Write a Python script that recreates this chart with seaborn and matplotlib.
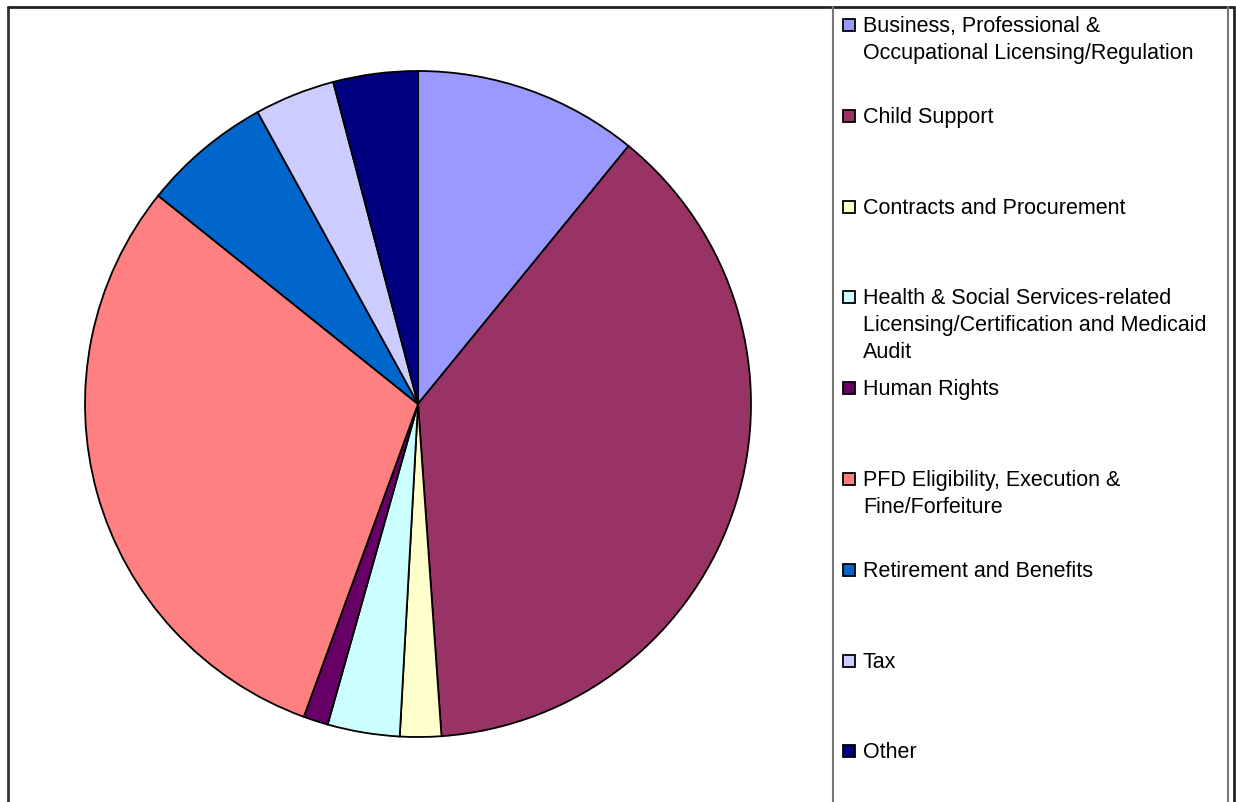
import matplotlib
matplotlib.use("Agg")
import matplotlib.pyplot as plt
import seaborn as sns
from matplotlib.lines import Line2D
from matplotlib.patches import Rectangle

# share of cases by category (percent)
categories = [
    "Business, Professional &\nOccupational Licensing/Regulation",
    "Child Support",
    "Contracts and Procurement",
    "Health & Social Services-related\nLicensing/Certification and Medicaid\nAudit",
    "Human Rights",
    "PFD Eligibility, Execution &\nFine/Forfeiture",
    "Retirement and Benefits",
    "Tax",
    "Other",
]
shares = [10.9, 38.0, 2.0, 3.5, 1.2, 30.2, 6.25, 3.9, 4.1]
colors = ["#9999FF", "#993366", "#FFFFCC", "#CCFFFF", "#660066",
          "#FF8080", "#0066CC", "#CCCCFF", "#000080"]

sns.set_style("white")
plt.rcParams["font.family"] = ["Liberation Sans", "DejaVu Sans"]

W, H = 1236, 802
fig = plt.figure(figsize=(W / 100, H / 100), dpi=100)

def fx(px):
    return px / W

def fy(py):
    return 1 - py / H

# pie axes: center (418, 404), radius 333 px
cx, cy, r = 418, 404, 333
ax = fig.add_axes([fx(cx - r), fy(cy + r), 2 * r / W, 2 * r / H])
ax.pie(shares, colors=colors, startangle=90, counterclock=False,
       wedgeprops=dict(edgecolor="black", linewidth=1.3))
ax.set_xlim(-1, 1)
ax.set_ylim(-1, 1)
ax.set_aspect("auto")
ax.axis("off")

# outer chart frame (bottom edge runs past the image)
for xs, ys, c, lw in [
    ([8, 8], [7, H + 5], "#333333", 2.0),
    ([8, 1234], [7, 7], "#222222", 2.0),
    ([1234, 1234], [7, H + 5], "#222222", 2.0),
    ([833, 833], [7, H + 5], "#777777", 1.5),
    ([1228, 1228], [7, H + 5], "#777777", 1.5),
]:
    fig.add_artist(Line2D([fx(x) for x in xs], [fy(y) for y in ys],
                          color=c, linewidth=lw))

# legend entries
first_line_center = 25
step = 90.8
line_h = 27
for i, (label, col) in enumerate(zip(categories, colors)):
    yc = first_line_center + i * step
    fig.add_artist(Rectangle((fx(843), fy(yc + 6)), 12 / W, 12 / H,
                             facecolor=col, edgecolor="black", linewidth=1.3,
                             transform=fig.transFigure))
    for k, line in enumerate(label.split("\n")):
        fig.text(fx(863), fy(yc + 7 + k * line_h), line, fontsize=15.5,
                 va="baseline", ha="left", color="black")

fig.savefig("out.png", dpi=100, facecolor="white")
